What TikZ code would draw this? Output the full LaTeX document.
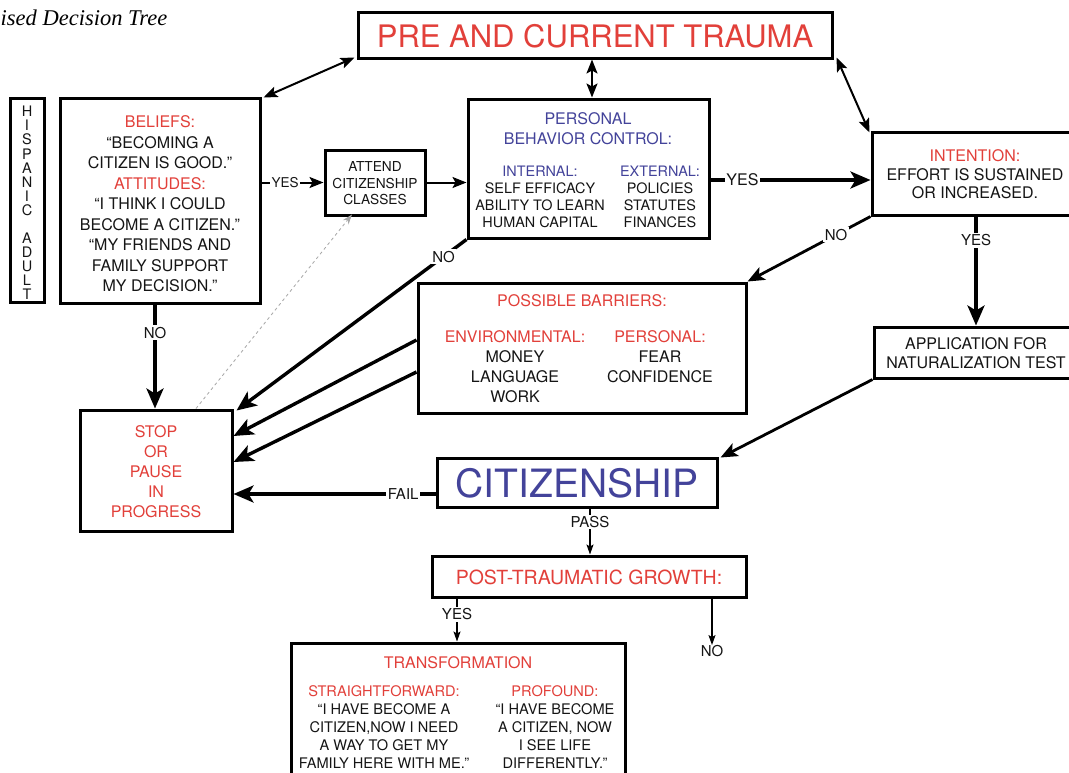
\documentclass[tikz,border=0pt]{standalone}
\usepackage{fontspec}
\setmainfont{TeX Gyre Heros}
\newfontfamily\titlefont{Liberation Serif}
\usetikzlibrary{arrows.meta}
\definecolor{tred}{HTML}{E2403A}
\definecolor{tblue}{HTML}{43439A}
\definecolor{tblack}{HTML}{151515}
\newcommand\myfs[2]{\fontsize{#1}{#2}\selectfont}
\begin{document}
\begin{tikzpicture}[x=1pt,y=-1pt,
  box/.style={draw=black, line width=3pt, inner sep=0pt, fill=white},
  txt/.style={inner sep=0pt, align=center, text=tblack},
  arr/.style={-{Stealth[length=20pt,width=17pt,inset=5pt]}, line width=3.4pt},
  marr/.style={-{Stealth[length=14pt,width=11pt,inset=3pt]}, line width=2pt},
  harr/.style={-{Stealth[length=17pt,width=14pt,inset=4pt]}, line width=2.8pt},
  darr/.style={{Stealth[length=14pt,width=11pt,inset=3pt]}-{Stealth[length=14pt,width=11pt,inset=3pt]}, line width=2pt},
  tarr/.style={-{Stealth[length=10pt,width=7pt,inset=2pt]}, line width=1.2pt},
  lbl/.style={fill=white, inner sep=1.5pt, font=\myfs{15}{15}, text=tblack}]
\useasboundingbox (0,0) rectangle (1069,772);
\fill[white] (0,0) rectangle (1069,772);

% title
\node[anchor=west, inner sep=0pt] (title) at (0.5,18) {\titlefont\itshape\myfs{22.5}{22.5}ised Decision Tree};

% boxes
\node[box, minimum width=474pt, minimum height=46pt] (trauma) at (595,35) {};
\node[box, minimum width=34pt, minimum height=204pt] (hisp) at (27,200) {};
\node[box, minimum width=200pt, minimum height=205pt] (beliefs) at (160,200.5) {};
\node[box, minimum width=100pt, minimum height=65pt] (attend) at (375,182.5) {};
\node[box, minimum width=241pt, minimum height=139pt] (pbc) at (588.5,168.5) {};
\node[box, minimum width=206pt, minimum height=83pt] (intent) at (975,173.5) {};
\node[box, minimum width=328pt, minimum height=130pt] (barriers) at (582,348) {};
\node[box, minimum width=204pt, minimum height=51pt] (app) at (976,352.5) {};
\node[box, minimum width=152pt, minimum height=121pt] (stop) at (156,470.5) {};
\node[box, minimum width=280pt, minimum height=49pt] (citi) at (577,482.5) {};
\node[box, minimum width=314pt, minimum height=41pt] (ptg) at (589,576.5) {};
\node[box, minimum width=334pt, minimum height=137pt] (trans) at (458,711.5) {};

% texts
\node[txt, text=tred, font=\myfs{31}{31}] (traumat) at (595,36) {PRE AND CURRENT TRAUMA};
\node[txt, font=\myfs{14.5}{14.08}] (hispt) at (27,203) {H\\I\\S\\P\\A\\N\\I\\C\\\mbox{}\\A\\D\\U\\L\\T};
\node[txt, font=\myfs{16}{20.5}] (beliefst) at (160,204) {\textcolor{tred}{BELIEFS:}\\“BECOMING A\\CITIZEN IS GOOD.”\\\textcolor{tred}{ATTITUDES:}\\“I THINK I COULD\\BECOME A CITIZEN.”\\“MY FRIENDS AND\\FAMILY SUPPORT\\MY DECISION.”};
\node[txt, font=\myfs{13.7}{16.5}] (attendt) at (375,183.5) {ATTEND\\CITIZENSHIP\\CLASSES};
\node[txt, text=tblue, font=\myfs{16}{20}] (pbct) at (588,129) {PERSONAL\\BEHAVIOR CONTROL:};
\node[txt, font=\myfs{14.4}{17}] (pbcin) at (540,196.5) {\textcolor{tblue}{INTERNAL:}\\SELF EFFICACY\\ABILITY TO LEARN\\HUMAN CAPITAL};
\node[txt, font=\myfs{14.4}{17}] (pbcex) at (660,196.5) {\textcolor{tblue}{EXTERNAL:}\\POLICIES\\STATUTES\\FINANCES};
\node[txt, font=\myfs{16}{18.5}] (intentt) at (975,174.5) {\textcolor{tred}{INTENTION:}\\EFFORT IS SUSTAINED\\OR INCREASED.};
\node[txt, text=tred, font=\myfs{16}{16}] (barrt) at (582,301) {POSSIBLE BARRIERS:};
\node[txt, font=\myfs{16}{20}] (barenv) at (515,367) {\textcolor{tred}{ENVIRONMENTAL:}\\MONEY\\LANGUAGE\\WORK};
\node[txt, font=\myfs{16}{20}] (barper) at (660,357) {\textcolor{tred}{PERSONAL:}\\FEAR\\CONFIDENCE};
\node[txt, font=\myfs{16}{19}] (appt) at (976,353.5) {APPLICATION FOR\\NATURALIZATION TEST};
\node[txt, text=tred, font=\myfs{16}{20}] (stopt) at (156,472) {STOP\\OR\\PAUSE\\IN\\PROGRESS};
\node[txt, text=tblue, font=\myfs{39}{39}] (citit) at (577,483) {CITIZENSHIP};
\node[txt, text=tred, font=\myfs{19.5}{19.5}] (ptgt) at (589,577.5) {POST-TRAUMATIC GROWTH:};
\node[txt, text=tred, font=\myfs{16}{16}] (transt) at (458,663) {TRANSFORMATION};
\node[txt, font=\myfs{14.6}{18}] (transs) at (384,727) {\textcolor{tred}{STRAIGHTFORWARD:}\\“I HAVE BECOME A\\CITIZEN,NOW I NEED\\A WAY TO GET MY\\FAMILY HERE WITH ME.”};
\node[txt, font=\myfs{14.6}{18}] (transp) at (555,727) {\textcolor{tred}{PROFOUND:}\\“I HAVE BECOME\\A CITIZEN, NOW\\I SEE LIFE\\DIFFERENTLY.”};
\node[txt, font=\myfs{15}{15}] (ptgno) at (712,651) {NO};

% connectors
\draw[darr] ([xshift=-2pt,yshift=2pt]trauma.south west) -- ([xshift=2pt,yshift=-1pt]beliefs.north east);
\draw[darr] (trauma.south -| 592,0) -- (pbc.north -| 592,0);
\draw[darr] ([xshift=3pt,yshift=2pt]trauma.south east) -- ([xshift=-1pt,yshift=-2pt]intent.north west);
\draw[marr] (beliefs.east |- attend.west) -- node[lbl, font=\myfs{13.5}{13.5}, pos=0.38] {YES} (attend.west);
\draw[marr] (attend.east) -- (pbc.west |- attend.east);
\draw[arr] (pbc.east |- 0,180) -- node[lbl, font=\myfs{16}{16}, pos=0.2] {YES} (intent.west |- 0,180);
\draw[arr] (pbc.south west) -- node[lbl, pos=0.1] {NO} ([xshift=3pt,yshift=-2pt]stop.north east);
\draw[harr] (intent.south west) -- node[lbl, pos=0.28] {NO} (barriers.north east);
\draw[arr] (intent.south -| 976,0) -- node[lbl, pos=0.22] {YES} (app.north -| 976,0);
\draw[arr] (barriers.west |- 0,340) -- (stop.east |- 0,436);
\draw[arr] (barriers.west |- 0,372) -- (stop.east |- 0,462);
\draw[harr] (app.south west) -- ([xshift=2pt,yshift=-1pt]citi.north east);
\draw[arr] (citi.west |- 0,494) -- node[lbl, pos=0.16] {FAIL} (stop.east |- 0,494);
\draw[arr] (beliefs.south -| 155,0) -- node[lbl, pos=0.27] {NO} (stop.north -| 155,0);
\draw[gray!70, dashed, line width=0.8pt, -{Stealth[length=10pt,width=7pt]}] (stop.north -| 196,0) -- ([yshift=2pt]attend.south -| 352,0);
\draw[tarr] (citi.south -| 590,0) -- node[lbl, pos=0.29] {PASS} (ptg.north -| 590,0);
\draw[tarr] (ptg.south -| 457,0) -- node[lbl, pos=0.37] {YES} (trans.north -| 457,0);
\draw[tarr] (ptg.south -| 712,0) -- (ptgno.north);
\end{tikzpicture}
\end{document}
